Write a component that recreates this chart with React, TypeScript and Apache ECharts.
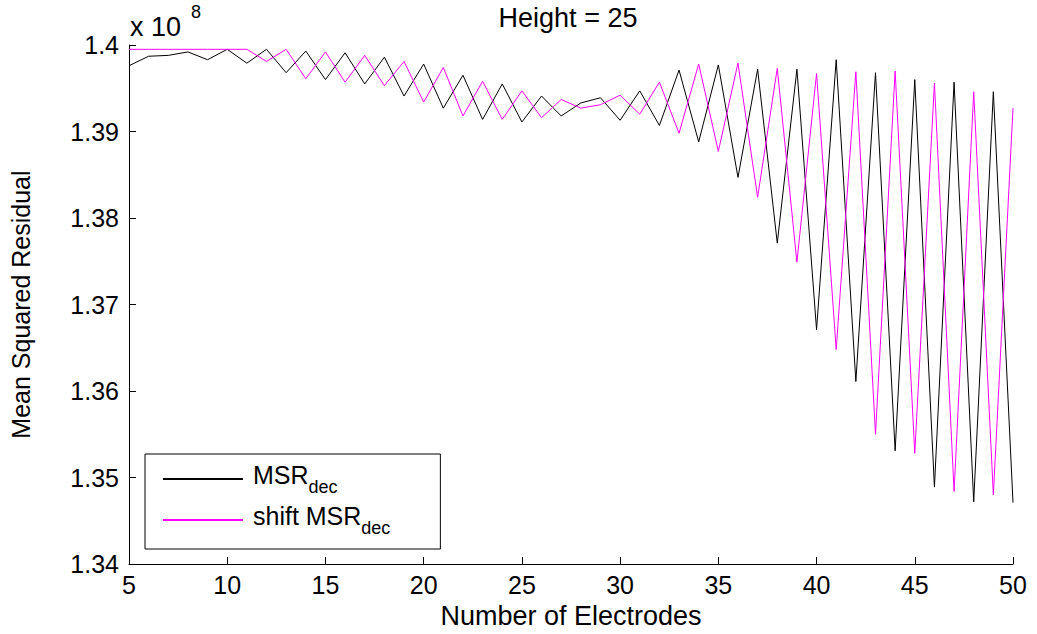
import React, { useEffect, useRef } from "react";
import * as echarts from "echarts";

// Number of electrodes on the horizontal axis
const electrodes = [
  5, 6, 7, 8, 9, 10, 11, 12, 13, 14, 15, 16, 17, 18, 19, 20, 21, 22, 23, 24, 25, 26, 27,
  28, 29, 30, 31, 32, 33, 34, 35, 36, 37, 38, 39, 40, 41, 42, 43, 44, 45, 46, 47, 48, 49, 50,
];

// Mean squared residual (in units of 1e8)
const msrDec = [
  1.3976, 1.3987, 1.3988, 1.3992, 1.3983, 1.3995, 1.3979, 1.3995, 1.3968, 1.3993, 1.396,
  1.3991, 1.3955, 1.3986, 1.3941, 1.3978, 1.3927, 1.3965, 1.3914, 1.3955, 1.3911, 1.3941,
  1.3918, 1.3933, 1.3939, 1.3913, 1.3947, 1.3907, 1.3971, 1.3888, 1.3977, 1.3847, 1.3972,
  1.3771, 1.3972, 1.3671, 1.3983, 1.3611, 1.3968, 1.3531, 1.396, 1.3489, 1.3957, 1.3472,
  1.3946, 1.3471,
];

const shiftMsrDec = [
  1.3995, 1.3995, 1.3995, 1.3995, 1.3995, 1.3995, 1.3995, 1.3981, 1.3995, 1.3961, 1.3992,
  1.3957, 1.3988, 1.3953, 1.3981, 1.3934, 1.3974, 1.3918, 1.3958, 1.3914, 1.3947, 1.3916,
  1.3937, 1.3927, 1.3931, 1.3942, 1.392, 1.3957, 1.3898, 1.3978, 1.3877, 1.3979, 1.3824,
  1.3973, 1.3749, 1.3967, 1.3648, 1.3969, 1.355, 1.397, 1.3528, 1.3956, 1.3484, 1.3946,
  1.348, 1.3927,
];

const yTicks = { min: 1.34, max: 1.4, step: 0.01 };
const xTicks = { min: 5, max: 50, step: 5 };

const FONT = "'Liberation Sans', Arial, Helvetica, sans-serif";

export default function App() {
  const ref = useRef<HTMLDivElement>(null);

  useEffect(() => {
    if (!ref.current) return;
    const chart = echarts.init(ref.current, undefined, { renderer: "svg" });

    const axisCommon = {
      axisLine: { show: true, lineStyle: { color: "#000", width: 1 } },
      axisTick: { show: true, inside: true, length: 7, lineStyle: { color: "#000" } },
      splitLine: { show: false },
      axisLabel: { color: "#000", fontSize: 25, fontFamily: FONT },
      nameTextStyle: { color: "#000", fontFamily: FONT },
    };

    chart.setOption({
      animation: false,
      backgroundColor: "#fff",
      textStyle: { fontFamily: FONT },
      grid: { left: 129, right: 24, top: 45, bottom: 64, containLabel: false },
      graphic: [
        {
          type: "text",
          x: 568,
          y: 18,
          style: {
            text: "Height = 25",
            fontSize: 27,
            fontFamily: FONT,
            fill: "#000",
            align: "center",
            verticalAlign: "middle",
          },
        },
        {
          type: "text",
          x: 130,
          y: 27,
          style: {
            text: "x 10",
            fontSize: 27,
            fontFamily: FONT,
            fill: "#000",
            align: "left",
            verticalAlign: "middle",
          },
        },
        {
          type: "text",
          x: 191,
          y: 12,
          style: {
            text: "8",
            fontSize: 18,
            fontFamily: FONT,
            fill: "#000",
            align: "left",
            verticalAlign: "middle",
          },
        },
      ],
      legend: {
        show: true,
        orient: "vertical",
        left: 145,
        top: 454,
        padding: [8, 50, 11, 17],
        itemGap: 6,
        itemWidth: 80,
        itemHeight: 14,
        backgroundColor: "#fff",
        borderColor: "#000",
        borderWidth: 1,
        borderRadius: 0,
        itemStyle: { opacity: 0 },
        data: ["MSR_dec", "shift MSR_dec"],
        formatter: (name: string) =>
          name === "MSR_dec" ? "{m|MSR}{s|dec}" : "{m|shift MSR}{s|dec}",
        textStyle: {
          color: "#000",
          fontFamily: FONT,
          rich: {
            m: {
              fontSize: 25,
              lineHeight: 34,
              verticalAlign: "top",
              color: "#000",
              fontFamily: FONT,
              padding: [0, 0, 10, 5],
            },
            s: { fontSize: 18, lineHeight: 20, verticalAlign: "bottom", color: "#000", fontFamily: FONT },
          },
        },
      },
      xAxis: {
        type: "value",
        min: xTicks.min,
        max: xTicks.max,
        interval: xTicks.step,
        name: "Number of Electrodes",
        nameLocation: "middle",
        nameGap: 36,
        ...axisCommon,
        axisLabel: { ...axisCommon.axisLabel, margin: 8 },
        nameTextStyle: { ...axisCommon.nameTextStyle, fontSize: 27 },
      },
      yAxis: {
        type: "value",
        min: yTicks.min,
        max: yTicks.max,
        interval: yTicks.step,
        name: "Mean Squared Residual",
        nameLocation: "middle",
        nameGap: 96,
        ...axisCommon,
        axisLabel: {
          ...axisCommon.axisLabel,
          margin: 10,
          formatter: (v: number) => String(+v.toFixed(2)),
        },
        nameTextStyle: { ...axisCommon.nameTextStyle, fontSize: 25 },
      },
      series: [
        {
          name: "MSR_dec",
          type: "line",
          data: electrodes.map((n, i) => [n, msrDec[i]]),
          symbol: "none",
          showSymbol: false,
          lineStyle: { color: "#000", width: 1 },
          itemStyle: { color: "#000" },
        },
        {
          name: "shift MSR_dec",
          type: "line",
          data: electrodes.map((n, i) => [n, shiftMsrDec[i]]),
          symbol: "none",
          showSymbol: false,
          lineStyle: { color: "#ff00ff", width: 1 },
          itemStyle: { color: "#ff00ff" },
        },
      ],
    });

    return () => chart.dispose();
  }, []);

  return (
    <div
      ref={ref}
      style={{ position: "fixed", left: 0, top: 0, width: 1037, height: 634, background: "#fff" }}
    />
  );
}
